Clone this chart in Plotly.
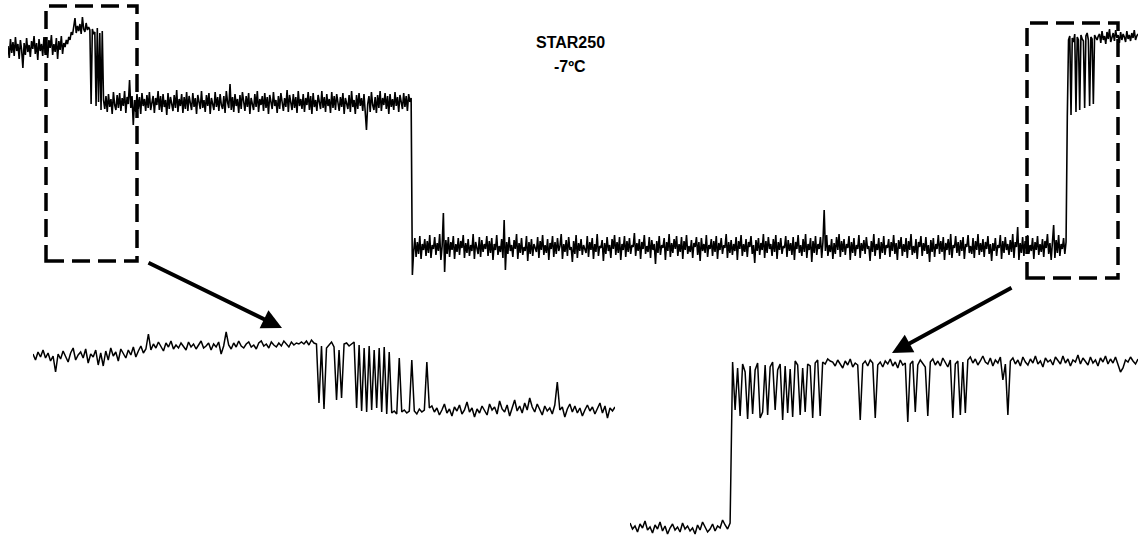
import plotly.graph_objects as go

# ---------------- data (current, arbitrary units) ----------------
# Main trace segments
main_start = [
    234,222,241,227,238,224,243,229,236,221,240,230,212,237,225,242,228,235,223,239,
    231,244,226,237,220,241,229,236,224,243,227,238,222,240,232,245,225,236,228,242,
    221,239,230,244,226,237,233,240]
main_rise = [236,243,240,248,245,252,262,247,254,249,256,246,263,251,248,257,250,253]
main_flicker1 = [250,176,251,246,248,174,252,178,247,170,249,180]
main_level1 = [
    171,184,168,186,173,181,166,188,175,170,185,172,187,169,182,174,189,167,183,176,
    200,172,184,155,180,168,186,171,183,166,187,174,181,169,185,172,188,170,179,184,
    167,182,175,189,170,184,168,186,173,180,165,187,171,183,176,169,185,172,190,168,
    181,174,186,167,183,171,188,169,184,175,170,187,173,182,166,185,177,171,189,172,
    180,168,185,174,187,166,182,176,170,188,173,183,169,186,175,171,184,167,189,178,
    172,196,170,183,168,186,174,181,167,185,171,188,176,169,184,173,187,166,182,175,
    170,186,173,189,168,181,175,184,169,187,172,183,166,185,177,171,188,174,180,167,
    184,171,187,176,169,182,173,190,168,185,175,170,186,172,183,167,189,174,181,171,
    186,168,182,175,188,170,184,166,187,173,180,169,185,176,171,189,172,183,168,186,
    174,181,167,188,172,184,170,186,175,169,183,173,187,166,182,176,171,185,168,189,
    173,180,166,185,171,187,174,182,169,186,172,150,176,184,168,188,175,170,183,167,
    185,172,189,169,182,175,187,171,184,166,186,173,181,170,188,174,183,168,185,176,
    171,187,173,184,169,186,178,182]
main_level2 = [
    5,28,42,23,38,26,44,21,36,30,41,24,39,27,45,22,35,31,43,25,
    37,29,46,20,34,67,8,40,26,43,23,38,30,44,21,36,28,42,25,39,
    32,45,22,37,27,41,24,35,29,46,21,38,33,26,43,23,40,28,36,31,
    44,24,39,27,42,20,36,30,45,25,34,28,41,22,60,10,38,26,43,29,
    35,23,40,31,46,21,37,27,42,25,33,29,44,19,38,26,41,24,36,32,
    28,43,22,39,30,45,25,35,27,41,20,37,31,44,23,38,26,42,29,34,
    46,21,36,28,40,24,43,30,33,18,39,26,45,22,37,29,41,25,35,31,
    27,44,23,38,30,42,21,36,28,46,24,34,32,40,19,37,26,43,29,35,
    22,41,31,45,25,38,27,43,20,36,30,44,23,39,28,42,26,35,33,47,
    24,37,29,41,21,38,31,45,26,34,28,43,22,40,30,36,16,39,27,44,
    25,35,32,42,20,38,29,46,23,37,27,41,31,44,24,36,28,43,21,39,
    30,45,26,34,28,40,22,37,33,43,25,38,19,42,29,36,27,45,23,35,
    31,41,24,39,28,44,21,37,30,42,26,35,32,46,22,38,27,40,25,36,
    29,43,20,39,31,45,24,36,28,41,23,38,33,44,26,35,17,40,29,42,
    25,37,30,46,22,39,27,43,31,36,24,41,28,45,21,38,30,42,26,34,
    32,44,23,40,29,37,25,43,20,38,31,45,27,35,24,41,28,46,22,36,
    30,42,18,39,27,44,25,36,31,43,22,38,70,29,45,24,35,28,41,21,
    37,26,43,30,46,23,39,28,41,25,36,32,44,20,38,27,42,24,35,31,
    45,22,37,29,40,26,43,31,34,19,39,28,46,24,36,30,42,21,38,27,
    44,25,35,32,41,23,38,29,45,26,37,20,40,31,43,24,36,28,42,22,
    39,30,46,25,34,27,41,21,38,33,44,24,37,29,43,26,35,18,40,28,
    42,23,36,31,45,26,39,28,43,20,37,30,41,25,46,22,35,32,44,27,
    38,24,40,29,43,21,36,33,45,27,34,26,42,22,39,30,46,25,37,28,
    41,23,38,31,44,26,36,19,37,29,42,24,35,32,45,21,39,27,43,30,
    36,25,40,28,46,22,38,33,53,20,37,27,43,24,39,31,45,26,35,29,
    42,21,38,30,44,25,36,28,41,23,39,32,46,26,37,20,43,55,22,40,
    27,45,24,36,31,42,26,38]
main_flicker2 = [163,240,244,165,242,238,246,168,243,240,170,245,241,239,172,244,247,240,174,243,
                 241,176,245,242,240,244]
main_end = [246,237,249,240,244,236,248,241,251,238,243,247,239,250,242,245,237,248,240,246,
            243,238,249,241,245,239,247,242,250,240,244,246]

# Inset 1 (left zoom)
ins1_a = [
    66,60,68,63,70,62,67,59,64,48,66,61,69,63,58,67,72,60,65,68,
    62,71,57,66,63,70,55,67,54,69,60,72,64,68,59,71,66,62,70,65,
    73,63,69,74,67,71,86]
ins1_b = [
    70,76,72,78,74,69,77,73,79,71,75,72,77,74,70,78,73,76,71,75,
    79,72,74,77,70,76,73,78,66,74,88,75,71,77,73,79,74,72,76,78,
    73,75,71,77,79,74,76,72,78,75,73,77,74,79,76,73,78,75,77,76]
ins1_c = [78,76,79,75,80,77]
ins1_d = [76,17,74,11,72,75,78,73,20,70,22,76,77,74,76,78,12,75,9,72,
          8,74,10,70,12,72,8,73,6,68,7,9,6,62,8,10,7,9,60,9,6,11,8,10,58,12]
ins1_e = [
    14,8,12,5,10,16,7,11,4,13,9,15,6,10,18,8,12,3,11,7,
    14,9,5,16,10,13,6,19,11,8,15,4,12,20,9,14,7,17,10,22,
    13,8,16,11,5,14,9,12,6,15,38,10,13,3,11,16,8,14,7,12,
    4,10,15,9,13,6,11,17,7,14,2,12,9,13]

# Inset 2 (right zoom)
ins2_a = [
    17,11,14,8,16,12,19,10,13,7,15,11,18,9,14,6,12,16,10,13,
    8,17,11,14,9,12,6,15,10,18,13,8,11,16,9,14,12,20,15,11,17]
ins2_b = [
    178,130,172,124,176,168,121,174,126,170,
    177,122,128,175,125,173,178,130,170,176,
    120,174,127,171,123,179,175,125,172,128,
    176,174,122,177,180,124,178,176,181,179]
ins2_c = [
    178,174,180,176,172,179,175,181,173,177,
    175,120,176,179,174,180,177,122,175,178,
    173,179,176,181,174,178,172,180,175,177,
    118,176,179,128,175,180,177,173,124,178,
    181,175,179,174,182,177,173,180,122,176,
    179,125,178,127,180,183,177,181,175,179,
    184,178,176,182,174,180,177,183,160,176,
    125,179,182,176,180,174,183,178,175,181,
    177,184,176,179,173,182,178,180,175,183,
    179,176,184,177,181,174,180,178,185,176,
    182,179,175,183,177,180,174,182,178,184,
    176,181,177,183,175,168,172,180,178,183,
    179,176,181]

title_line1 = "<b>STAR250</b>"
title_line2 = "<b>-7ºC</b>"

main_trace = main_start + main_rise + main_flicker1 + main_level1 + main_level2 + main_flicker2 + main_end
ins1_trace = ins1_a + ins1_b + ins1_c + ins1_d + ins1_e
ins2_trace = ins2_a + ins2_b + ins2_c

# ---------------- figure ----------------
W, H = 1138, 542
def px(x):
    return x / W
def py(y):
    return 1 - y / H

fig = go.Figure()
fig.add_trace(go.Scatter(x=list(range(len(main_trace))), y=main_trace, mode="lines",
                         line=dict(color="black", width=1.6), xaxis="x", yaxis="y", hoverinfo="skip"))
fig.add_trace(go.Scatter(x=list(range(len(ins1_trace))), y=ins1_trace, mode="lines",
                         line=dict(color="black", width=1.5), xaxis="x2", yaxis="y2", hoverinfo="skip"))
fig.add_trace(go.Scatter(x=list(range(len(ins2_trace))), y=ins2_trace, mode="lines",
                         line=dict(color="black", width=1.5), xaxis="x3", yaxis="y3", hoverinfo="skip"))

hidden = dict(visible=False, showgrid=False, zeroline=False)
fig.update_layout(
    width=W, height=H, margin=dict(l=0, r=0, t=0, b=0),
    paper_bgcolor="white", plot_bgcolor="white", showlegend=False,
    xaxis=dict(domain=[px(8), 1], range=[0, len(main_trace) - 1], **hidden),
    yaxis=dict(domain=[py(280), py(10)], range=[0, 270], **hidden),
    xaxis2=dict(domain=[px(33), px(615)], range=[0, len(ins1_trace) - 1], anchor="y2", **hidden),
    yaxis2=dict(domain=[py(420), py(320)], range=[0, 100], anchor="x2", **hidden),
    xaxis3=dict(domain=[px(630), 1], range=[0, len(ins2_trace) - 1], anchor="y3", **hidden),
    yaxis3=dict(domain=[py(540), py(350)], range=[0, 190], anchor="x3", **hidden),
)

box_line = dict(color="black", width=3.5, dash="18px,8px")
fig.add_shape(type="rect", xref="paper", yref="paper", x0=px(46), x1=px(137), y0=py(261), y1=py(6), line=box_line)
fig.add_shape(type="rect", xref="paper", yref="paper", x0=px(1027), x1=px(1118), y0=py(278), y1=py(23), line=box_line)

for (hx, hy, tx, ty) in [(282, 328, 147, 262), (892, 353, 1013, 287)]:
    fig.add_annotation(x=px(hx), y=py(hy), xref="paper", yref="paper", text="",
                       showarrow=True, ax=tx - hx, ay=ty - hy, arrowhead=2, arrowsize=1,
                       arrowwidth=4, arrowcolor="black", standoff=0)

tfont = dict(family="Liberation Sans, Arial, sans-serif", size=16, color="black")
fig.add_annotation(x=px(570), y=py(42), xref="paper", yref="paper", text=title_line1,
                   showarrow=False, font=tfont, xanchor="center", yanchor="middle")
fig.add_annotation(x=px(570), y=py(66), xref="paper", yref="paper", text=title_line2,
                   showarrow=False, font=tfont, xanchor="center", yanchor="middle")

fig.write_html("out.html")
